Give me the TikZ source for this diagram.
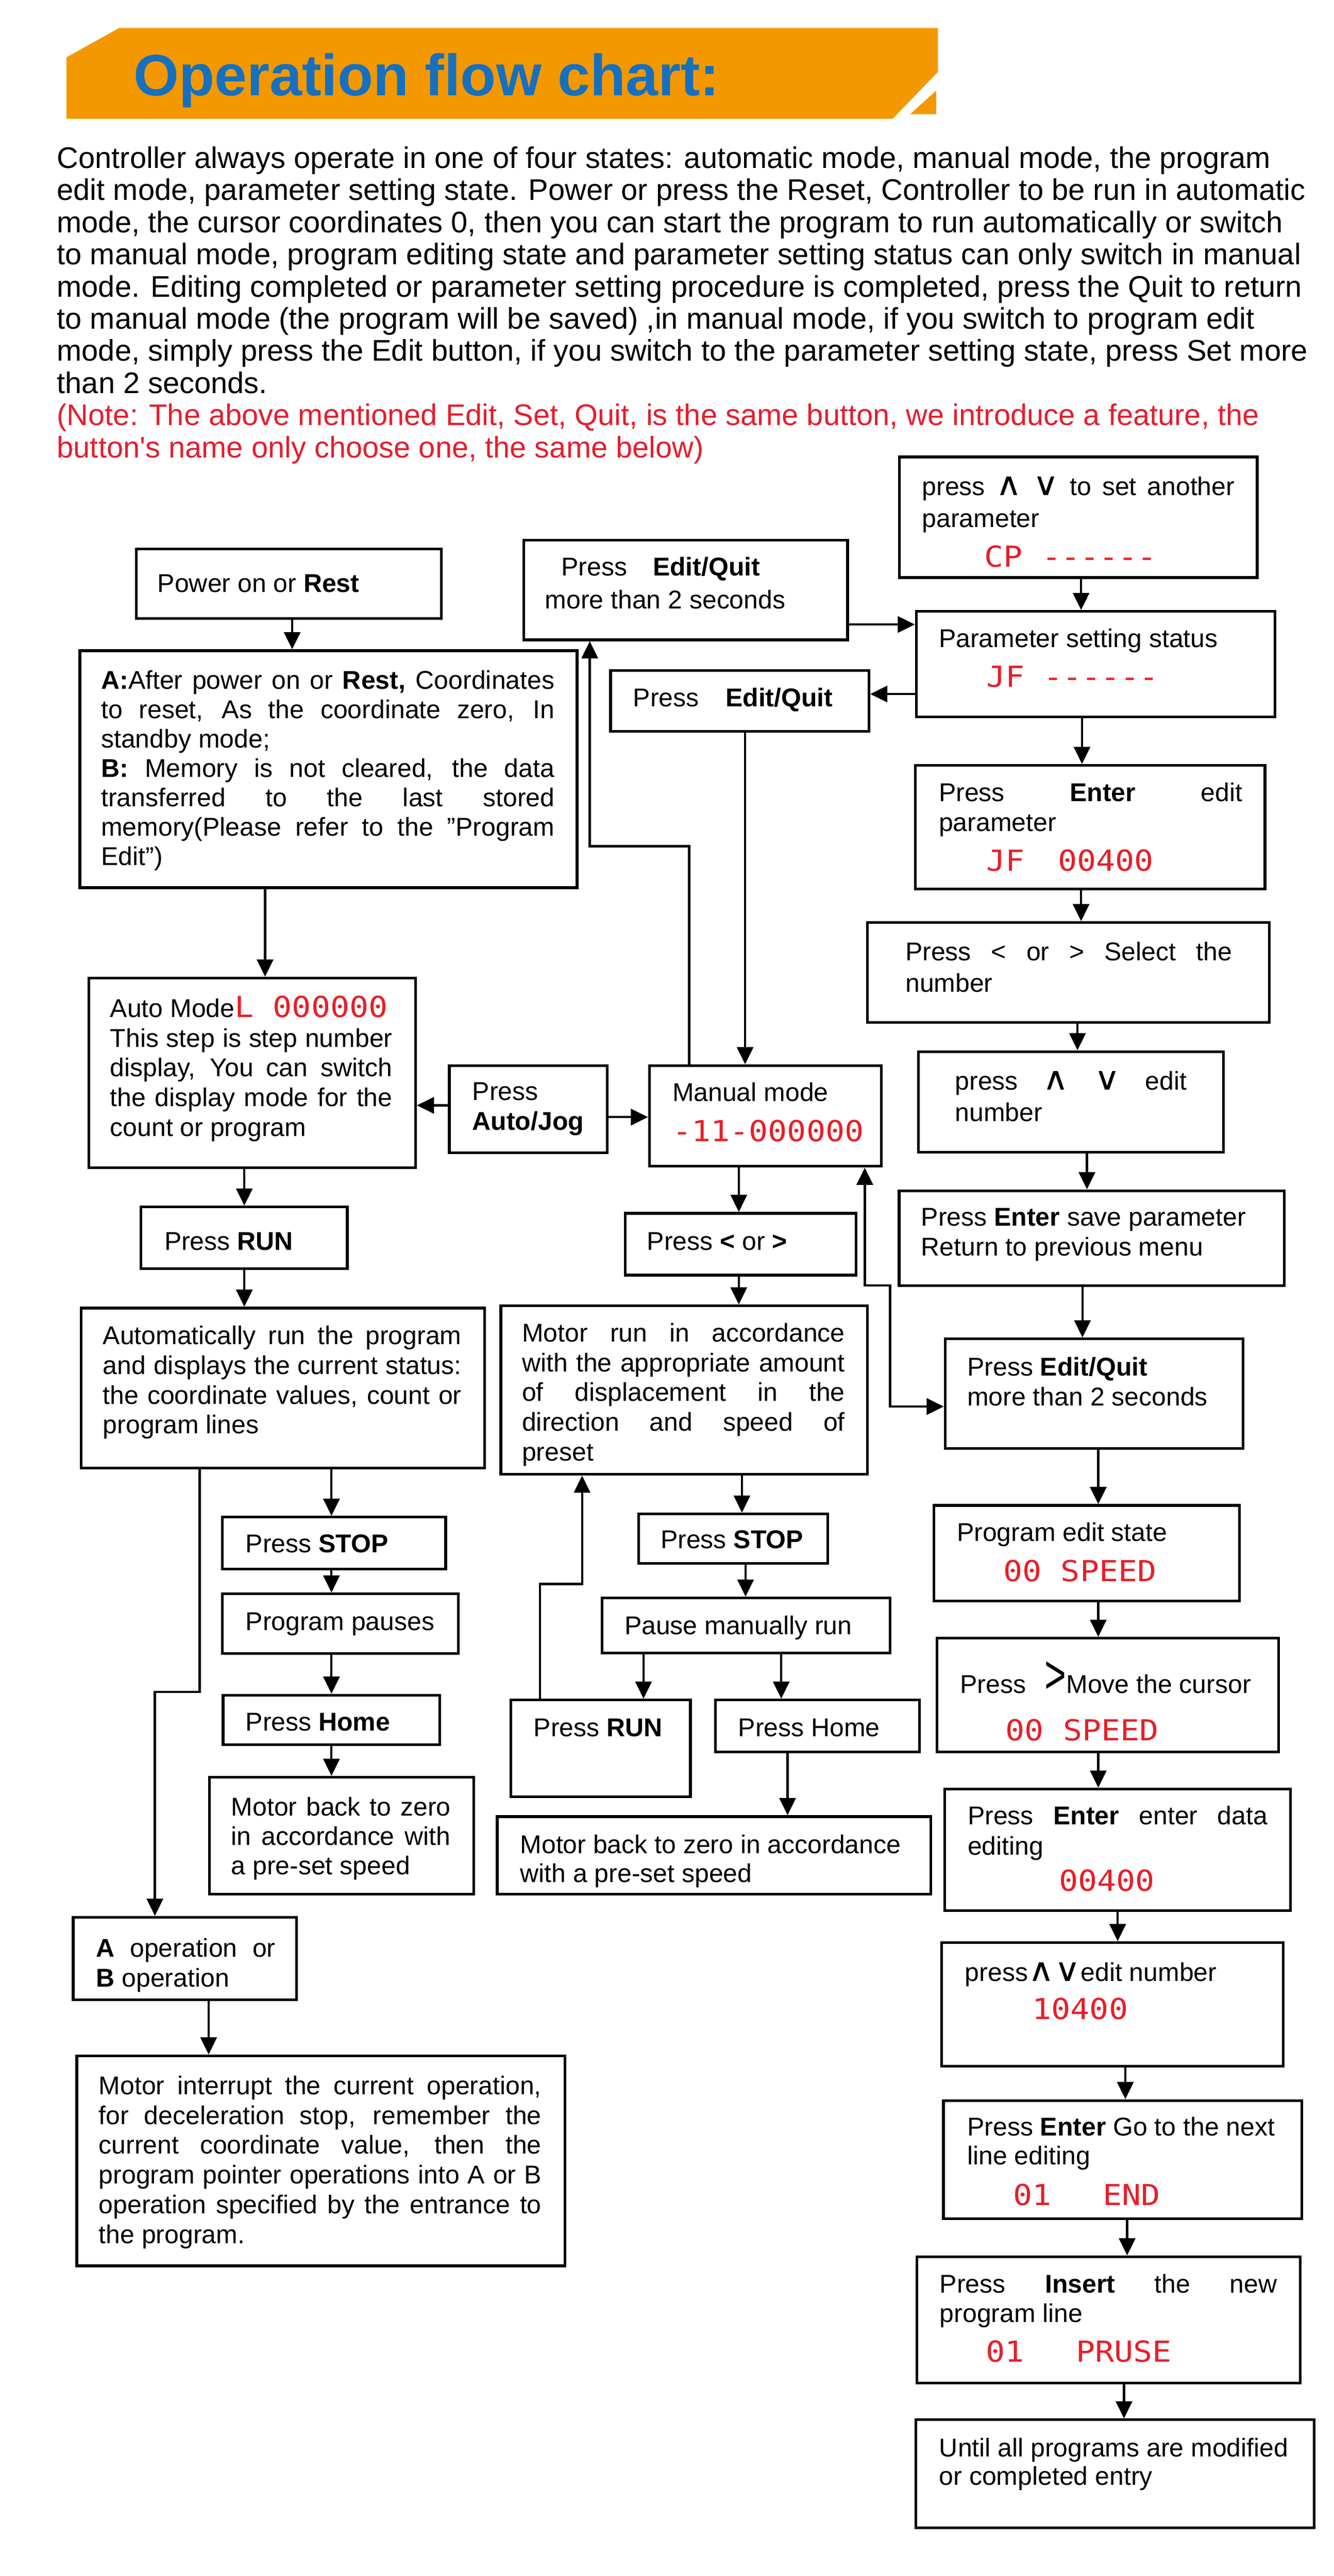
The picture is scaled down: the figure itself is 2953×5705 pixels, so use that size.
\documentclass[tikz,border=0pt]{standalone}
\usepackage{fontspec}
\setmainfont{Liberation Sans}
\newfontfamily\segfont[FakeStretch=1.1]{DejaVu Sans Mono}
\newfontfamily\symfont{DejaVu Sans}
\usetikzlibrary{arrows.meta}
\definecolor{bannerorange}{RGB}{243,152,0}
\definecolor{titleblue}{RGB}{22,112,190}
\definecolor{segred}{RGB}{232,30,40}
\definecolor{notered}{RGB}{228,30,45}
\newcommand\seg[1]{{\segfont\fontsize{64}{64}\selectfont\color{segred}#1}}
\newcommand\sym[1]{\scalebox{1.4}[1.25]{\symfont #1}}
\newcommand\J[1]{\makebox[\linewidth][s]{#1}}
\newcommand\bigcaret{\smash{\scalebox{0.68}[1]{\fontsize{120}{120}\selectfont >}}}
% name, x1, y1, x2, y2, text left, text top, text width, content
\newcommand\FB[9]{%
  \node[flowbox, anchor=north west] (#1) at (#2,#3)
  {\parbox[t][\dimexpr #5pt-#3pt\relax][t]{\dimexpr #4pt-#2pt\relax}{%
    \vspace*{\dimexpr #7pt-#3pt\relax}\hspace*{\dimexpr #6pt-#2pt\relax}%
    \parbox[t]{#8pt}{#9}}};}
\tikzset{
  flowbox/.style={draw=black, line width=6pt, inner sep=0pt, fill=white,
    font=\fontsize{57}{66}\selectfont},
  arr/.style={line width=5pt, -{Triangle[length=38pt,width=36pt]}},
  arrboth/.style={line width=5pt, {Triangle[length=38pt,width=36pt]}-{Triangle[length=38pt,width=36pt]}}
}
\begin{document}
\begin{tikzpicture}[x=1pt,y=-1pt]
\useasboundingbox (0,0) rectangle (2953,5705);
\fill[white] (0,0) rectangle (2953,5705);
% banner
\fill[bannerorange] (147,127) -- (264,62) -- (2077,62) -- (2077,159) -- (1977,263) -- (147,263) -- cycle;
\fill[bannerorange] (2015,253) -- (2073,201) -- (2073,253) -- cycle;
\node[anchor=base west, inner sep=0pt, text=titleblue, font=\bfseries\fontsize{129}{129}\selectfont] (title) at (296,212) {Operation flow chart:};
% intro text
\node[anchor=north west, align=left, inner sep=0pt, font=\fontsize{66}{71.3}\selectfont] (intro) at (126,324) {%
Controller always operate in one of four states: automatic mode, manual mode, the program\\
edit mode, parameter setting state. Power or press the Reset, Controller to be run in automatic\\
mode, the cursor coordinates 0, then you can start the program to run automatically or switch\\
to manual mode, program editing state and parameter setting status can only switch in manual\\
mode. Editing completed or parameter setting procedure is completed, press the Quit to return\\
to manual mode (the program will be saved) ,in manual mode, if you switch to program edit\\
mode, simply press the Edit button, if you switch to the parameter setting state, press Set more\\
than 2 seconds.\\
\textcolor{notered}{(Note: The above mentioned Edit, Set, Quit, is the same button, we introduce a feature, the}\\
\textcolor{notered}{button\textquotesingle s name only choose one, the same below)}};

% ---------- left / middle column ----------
\FB{power}{299}{1213}{974}{1367}{346}{1269}{600}{Power on or \textbf{Rest}}
\FB{ab}{174}{1438}{1275}{1963}{221}{1482}{1004}{\setlength\baselineskip{65pt}%
\J{\textbf{A:}After power on or \textbf{Rest,} Coordinates}\\
\J{to reset, As the coordinate zero, In}\\
standby mode;\\
\J{\textbf{B:} Memory is not cleared, the data}\\
\J{transferred to the last stored}\\
\J{memory(Please refer to the "Program}\\
Edit")}
\FB{eqa}{1157}{1193}{1874}{1414}{1204}{1231}{650}{\setlength\baselineskip{73pt}%
\hspace*{36pt}Press\hspace{57pt}\textbf{Edit/Quit}\\more than 2 seconds}
\FB{eqb}{1349}{1482}{1921}{1617}{1399}{1521}{500}{Press\hspace{59pt}\textbf{Edit/Quit}}
\FB{auto}{194}{2163}{917}{2583}{241}{2202}{625}{%
Auto Mode\seg{L 000000}\\
\J{This step is step number}\\
\J{display, You can switch}\\
\J{the display mode for the}\\
count or program}
\FB{aj}{992}{2357}{1342}{2550}{1043}{2394}{290}{Press\\\textbf{Auto/Jog}}
\FB{manual}{1435}{2357}{1949}{2580}{1486}{2394}{450}{Manual mode\\[23pt]\seg{-11-000000}}
\FB{runa}{309}{2670}{766}{2807}{361}{2726}{400}{Press \textbf{RUN}}
\FB{autorun}{177}{2894}{1070}{3248}{225}{2933}{794}{%
\J{Automatically run the program}\\
\J{and displays the current status:}\\
\J{the coordinate values, count or}\\
program lines}
\FB{lr}{1382}{2684}{1893}{2821}{1430}{2726}{450}{Press \textbf{<} or \textbf{>}}
\FB{motorrun}{1106}{2889}{1918}{3262}{1153}{2927}{715}{%
\J{Motor run in accordance}\\
\J{with the appropriate amount}\\
\J{of displacement in the}\\
\J{direction and speed of}\\
preset}
\FB{stopa}{489}{3357}{984}{3472}{541}{3396}{420}{Press \textbf{STOP}}
\FB{pauses}{489}{3527}{1012}{3659}{541}{3568}{450}{Program pauses}
\FB{homea}{491}{3751}{971}{3861}{541}{3791}{400}{Press \textbf{Home}}
\FB{backa}{461}{3933}{1046}{4192}{509}{3977}{486}{\setlength\baselineskip{65pt}%
\J{Motor back to zero}\\
\J{in accordance with}\\
a pre-set speed}
\FB{stopb}{1411}{3350}{1830}{3459}{1460}{3387}{350}{Press \textbf{STOP}}
\FB{pausem}{1330}{3536}{1968}{3658}{1380}{3575}{560}{Pause manually run}
\FB{runb}{1128}{3762}{1526}{3976}{1179}{3804}{320}{Press \textbf{RUN}}
\FB{homeb}{1581}{3762}{2033}{3877}{1632}{3804}{380}{Press Home}
\FB{backb}{1098}{4020}{2058}{4192}{1149}{4060}{880}{\setlength\baselineskip{64pt}%
Motor back to zero in accordance\\with a pre-set speed}
\FB{abop}{159}{4243}{654}{4426}{210}{4290}{397}{%
\J{\textbf{A} operation or}\\\textbf{B} operation}
\FB{interrupt}{167}{4550}{1248}{5015}{216}{4594}{980}{%
\J{Motor interrupt the current operation,}\\
\J{for deceleration stop, remember the}\\
\J{current coordinate value, then the}\\
\J{program pointer operations into A or B}\\
\J{operation specified by the entrance to}\\
the program.}

% ---------- right column ----------
\FB{cp}{1989}{1009}{2781}{1276}{2039}{1053}{692}{\setlength\baselineskip{70pt}%
\J{press \sym{∧} \sym{∨} to set another}\\
parameter\\[18pt]\hspace*{138pt}\seg{CP ------}}
\FB{param}{2026}{1351}{2820}{1585}{2076}{1389}{700}{%
Parameter setting status\\[22pt]\hspace*{105pt}\seg{JF ------}}
\FB{enta}{2024}{1692}{2798}{1966}{2076}{1731}{672}{%
\J{Press \textbf{Enter} edit}\\
parameter\\[22pt]\hspace*{105pt}\seg{JF\hspace{74pt}00400}}
\FB{sel}{1918}{2040}{2808}{2261}{2002}{2083}{723}{\setlength\baselineskip{70pt}%
\J{Press < or > Select the}\\number}
\FB{edn}{2031}{2326}{2706}{2549}{2112}{2369}{513}{\setlength\baselineskip{70pt}%
\J{press \sym{∧} \sym{∨} edit}\\number}
\FB{save}{1988}{2634}{2841}{2844}{2037}{2673}{780}{%
Press \textbf{Enter} save parameter\\Return to previous menu}
\FB{eqc}{2090}{2962}{2750}{3205}{2139}{3003}{580}{%
Press \textbf{Edit/Quit}\\more than 2 seconds}
\FB{pes}{2065}{3331}{2742}{3543}{2116}{3369}{600}{%
Program edit state\\[23pt]\hspace*{103pt}\seg{00 SPEED}}
\FB{mov}{2072}{3625}{2828}{3877}{2123}{3706}{700}{%
Press\hspace{42pt}\bigcaret Move the cursor\\[39pt]\hspace*{101pt}\seg{00 SPEED}}
\FB{entb}{2089}{3959}{2855}{4228}{2140}{3997}{664}{\setlength\baselineskip{67pt}%
\J{Press \textbf{Enter} enter data}\\
editing\\[13pt]\hspace*{202pt}\seg{00400}}
\FB{enb}{2082}{4299}{2839}{4573}{2134}{4343}{650}{%
press\sym{∧}\sym{∨}edit number\\[19pt]\hspace*{149pt}\seg{10400}}
\FB{nxt}{2086}{4649}{2880}{4911}{2139}{4686}{720}{\setlength\baselineskip{63pt}%
Press \textbf{Enter} Go to the next\\
line editing\\[28pt]\hspace*{102pt}\seg{01\hspace{113pt}END}}
\FB{ins}{2027}{4995}{2876}{5275}{2078}{5034}{747}{\setlength\baselineskip{65pt}%
\J{Press \textbf{Insert} the new}\\
program line\\[23pt]\hspace*{102pt}\seg{01\hspace{115pt}PRUSE}}
\FB{unt}{2025}{5356}{2907}{5595}{2077}{5396}{830}{\setlength\baselineskip{63pt}%
Until all programs are modified\\or completed entry}

% ---------- connectors ----------
\draw[arr] (power.south -| 647,0) -- (ab.north -| 647,0);
\draw[arr] (ab.south -| 587,0) -- (auto.north -| 587,0);
\draw[arr] (auto.south -| 541,0) -- (runa.north -| 541,0);
\draw[arr] (runa.south -| 541,0) -- (autorun.north -| 541,0);
\draw[arr] (autorun.south -| 734,0) -- (stopa.north -| 734,0);
\draw[arr] (stopa.south -| 734,0) -- (pauses.north -| 734,0);
\draw[arr] (pauses.south -| 734,0) -- (homea.north -| 734,0);
\draw[arr] (homea.south -| 734,0) -- (backa.north -| 734,0);
\draw[arr] (autorun.south -| 442,0) -- (442,3747) -- (343,3747) -- (abop.north -| 343,0);
\draw[arr] (abop.south -| 462,0) -- (interrupt.north -| 462,0);
\draw[arr] (aj.west |- 0,2448) -- (auto.east |- 0,2448);
\draw[arr] (aj.east |- 0,2474) -- (manual.west |- 0,2474);
\draw[arr] (manual.north -| 1526,0) -- (1526,1874) -- (1306,1874) -- (eqa.south -| 1306,0);
\draw[arr] (eqb.south -| 1650,0) -- (manual.north -| 1650,0);
\draw[arr] (eqa.east |- 0,1383) -- (param.west |- 0,1383);
\draw[arr] (param.west |- 0,1537) -- (eqb.east |- 0,1537);
\draw[arr] (cp.south -| 2394,0) -- (param.north -| 2394,0);
\draw[arr] (param.south -| 2396,0) -- (enta.north -| 2396,0);
\draw[arr] (enta.south -| 2394,0) -- (sel.north -| 2394,0);
\draw[arr] (sel.south -| 2386,0) -- (edn.north -| 2386,0);
\draw[arr] (edn.south -| 2407,0) -- (save.north -| 2407,0);
\draw[arr] (save.south -| 2397,0) -- (eqc.north -| 2397,0);
\draw[arr] (eqc.south -| 2432,0) -- (pes.north -| 2432,0);
\draw[arr] (pes.south -| 2432,0) -- (mov.north -| 2432,0);
\draw[arr] (mov.south -| 2432,0) -- (entb.north -| 2432,0);
\draw[arr] (entb.south -| 2475,0) -- (enb.north -| 2475,0);
\draw[arr] (enb.south -| 2492,0) -- (nxt.north -| 2492,0);
\draw[arr] (nxt.south -| 2496,0) -- (ins.north -| 2496,0);
\draw[arr] (ins.south -| 2489,0) -- (unt.north -| 2489,0);
\draw[arrboth] (manual.south -| 1915,0) -- (1915,2847) -- (1971,2847) -- (1971,3115) -- (eqc.west |- 0,3115);
\draw[arr] (manual.south -| 1636,0) -- (lr.north -| 1636,0);
\draw[arr] (lr.south -| 1636,0) -- (motorrun.north -| 1636,0);
\draw[arr] (motorrun.south -| 1643,0) -- (stopb.north -| 1643,0);
\draw[arr] (stopb.south -| 1651,0) -- (pausem.north -| 1651,0);
\draw[arr] (pausem.south -| 1425,0) -- (runb.north -| 1425,0);
\draw[arr] (pausem.south -| 1730,0) -- (homeb.north -| 1730,0);
\draw[arr] (homeb.south -| 1744,0) -- (backb.north -| 1744,0);
\draw[arr] (runb.north -| 1196,0) -- (1196,3508) -- (1289,3508) -- (motorrun.south -| 1289,0);
\end{tikzpicture}
\end{document}
